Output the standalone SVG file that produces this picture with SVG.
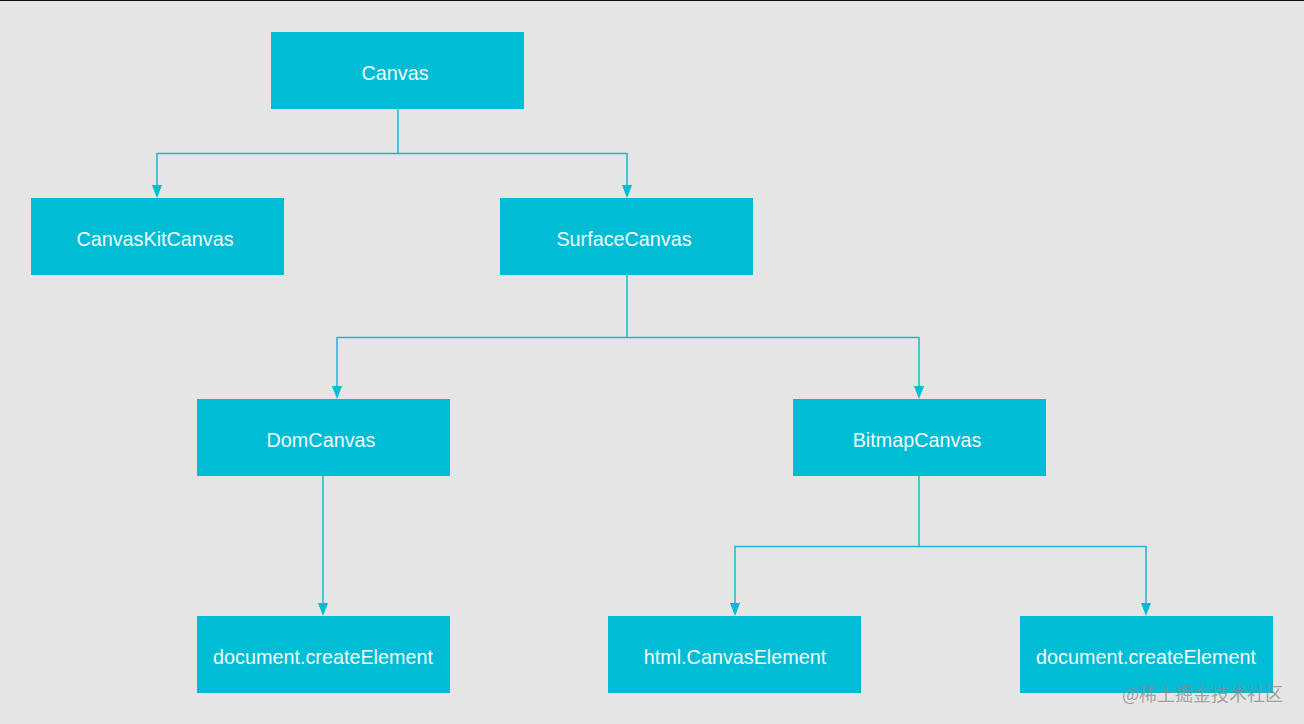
<svg xmlns="http://www.w3.org/2000/svg" width="1304" height="724" viewBox="0 0 1304 724">
<defs>
<style>
.node rect{fill:#00bcd5;}
.node text{fill:#f2fcfd;font-family:"Liberation Sans",Arial,sans-serif;font-size:19.8px;text-anchor:middle;}
.conn{fill:none;stroke:#1ab9d3;stroke-width:1.5;}
.wm{fill:#8a8a8a;fill-opacity:0.75;font-family:"Noto Sans CJK SC","Noto Sans",sans-serif;font-size:18px;}
</style>
</defs>
<rect x="0" y="0" width="1304" height="724" fill="#e5e5e5"/>
<rect x="0" y="0" width="1304" height="1" fill="#111"/>
<g id="connectors">
<path class="conn" d="M398,109 V153.5 H157 V185"/>
<path class="conn" d="M398,153.5 H627 V185"/>
<path class="conn" d="M627,275 V337.5 H337 V386"/>
<path class="conn" d="M627,337.5 H919 V386"/>
<path class="conn" d="M323,476 V603"/>
<path class="conn" d="M919,476 V546.5 H735 V603"/>
<path class="conn" d="M919,546.5 H1146 V603"/>
<g fill="#00bcd5">
<path d="M152,185 L162,185 L157,198 Z"/>
<path d="M622,185 L632,185 L627,198 Z"/>
<path d="M332,386 L342,386 L337,399 Z"/>
<path d="M914,386 L924,386 L919,399 Z"/>
<path d="M318,603 L328,603 L323,616 Z"/>
<path d="M730,603 L740,603 L735,616 Z"/>
<path d="M1141,603 L1151,603 L1146,616 Z"/>
</g>
</g>
<g id="canvas" class="node"><rect x="271" y="32" width="253" height="77"/><text x="395" y="80">Canvas</text></g>
<g id="canvaskitcanvas" class="node"><rect x="31" y="198" width="253" height="77"/><text x="155" y="246">CanvasKitCanvas</text></g>
<g id="surfacecanvas" class="node"><rect x="500" y="198" width="253" height="77"/><text x="624" y="246">SurfaceCanvas</text></g>
<g id="domcanvas" class="node"><rect x="197" y="399" width="253" height="77"/><text x="321" y="447">DomCanvas</text></g>
<g id="bitmapcanvas" class="node"><rect x="793" y="399" width="253" height="77"/><text x="917" y="447">BitmapCanvas</text></g>
<g id="doc1" class="node"><rect x="197" y="616" width="253" height="77"/><text x="323" y="664">document.createElement</text></g>
<g id="htmlcanvas" class="node"><rect x="608" y="616" width="253" height="77"/><text x="735" y="664">html.CanvasElement</text></g>
<g id="doc2" class="node"><rect x="1020" y="616" width="253" height="77"/><text x="1146" y="664">document.createElement</text></g>
<text class="wm" x="1122" y="701">@稀土掘金技术社区</text>
</svg>
